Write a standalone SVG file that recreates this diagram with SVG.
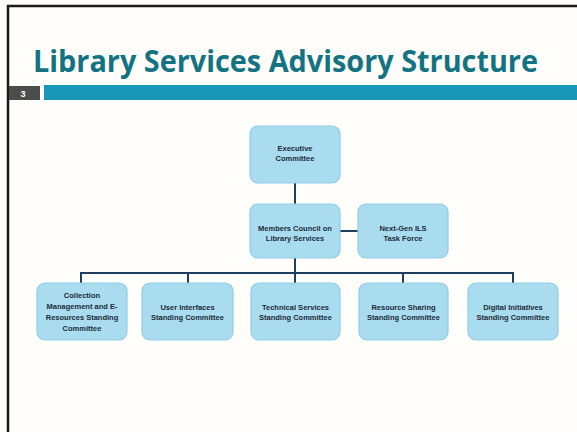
<svg xmlns="http://www.w3.org/2000/svg" width="577" height="432" viewBox="0 0 577 432">
<style>
.box{fill:#a9dcef;stroke:#8fcde6;stroke-width:1.2}
.lbl{font-family:"Liberation Sans",Arial,sans-serif;font-size:7.5px;font-weight:bold;fill:#1c2b3a;text-anchor:middle}
.con{stroke:#1f3d5c;stroke-width:2;fill:none}
</style>
<rect x="0" y="0" width="577" height="432" fill="#fffefb"/>
<path d="M8 432 V6 H577" fill="none" stroke="#1a1a1a" stroke-width="2.5"/>
<text x="33" y="72" font-family="'Open Sans',Lato,sans-serif" font-size="30" font-weight="bold" fill="#137382" textLength="505" lengthAdjust="spacingAndGlyphs">Library Services Advisory Structure</text>
<rect x="9" y="86" width="31" height="14" fill="#4b4d4b"/>
<text x="23" y="97" font-family="Liberation Sans,Arial,sans-serif" font-size="9" font-weight="bold" fill="#ffffff" text-anchor="middle">3</text>
<rect x="44" y="85" width="533" height="15" fill="#1796b8"/>
<g id="connectors">
<path class="con" d="M295 183 V204"/>
<path class="con" d="M340 231 H358"/>
<path class="con" d="M295 258 V273"/>
<path class="con" d="M81 283 V273 H513 V283"/>
<path class="con" d="M188 273 V283"/>
<path class="con" d="M295 273 V283"/>
<path class="con" d="M403 273 V283"/>
</g>
<g id="executive">
<rect class="box" x="250" y="126" width="90" height="57" rx="8"/>
<text class="lbl" x="295" y="151">Executive</text>
<text class="lbl" x="295" y="161">Committee</text>
</g>
<g id="members">
<rect class="box" x="250" y="204" width="90" height="54" rx="8"/>
<text class="lbl" x="295" y="231">Members Council on</text>
<text class="lbl" x="295" y="241">Library Services</text>
</g>
<g id="nextgen">
<rect class="box" x="358" y="204" width="90" height="54" rx="8"/>
<text class="lbl" x="403" y="231">Next-Gen ILS</text>
<text class="lbl" x="403" y="241">Task Force</text>
</g>
<g id="collection">
<rect class="box" x="37" y="283" width="90" height="57" rx="8"/>
<text class="lbl" x="82" y="298">Collection</text>
<text class="lbl" x="82" y="309">Management and E-</text>
<text class="lbl" x="82" y="320">Resources Standing</text>
<text class="lbl" x="82" y="331">Committee</text>
</g>
<g id="userinterfaces">
<rect class="box" x="142" y="283" width="91" height="57" rx="8"/>
<text class="lbl" x="187.5" y="310">User Interfaces</text>
<text class="lbl" x="187.5" y="320">Standing Committee</text>
</g>
<g id="technical">
<rect class="box" x="251" y="283" width="89" height="57" rx="8"/>
<text class="lbl" x="295.5" y="310">Technical Services</text>
<text class="lbl" x="295.5" y="320">Standing Committee</text>
</g>
<g id="resource">
<rect class="box" x="359" y="283" width="89" height="57" rx="8"/>
<text class="lbl" x="403.5" y="310">Resource Sharing</text>
<text class="lbl" x="403.5" y="320">Standing Committee</text>
</g>
<g id="digital">
<rect class="box" x="468" y="283" width="90" height="57" rx="8"/>
<text class="lbl" x="513" y="310">Digital Initiatives</text>
<text class="lbl" x="513" y="320">Standing Committee</text>
</g>
</svg>
